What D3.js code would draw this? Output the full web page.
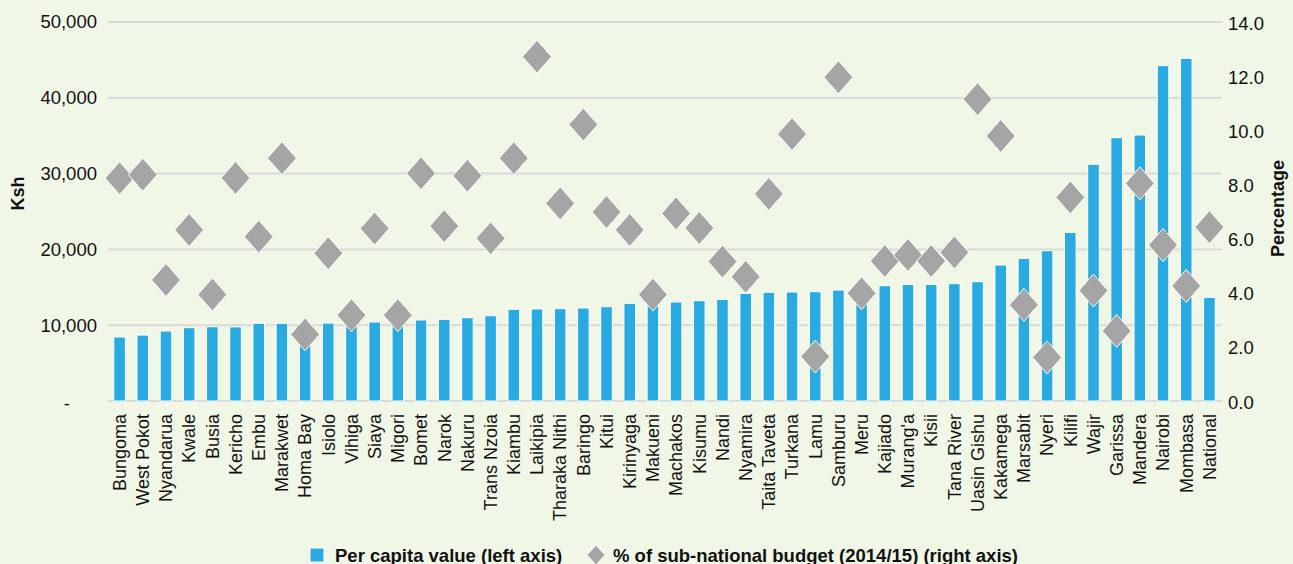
<!DOCTYPE html>
<html>
<head>
<meta charset="utf-8">
<script src="https://cdn.jsdelivr.net/npm/d3@7"></script>
<style>
  body { margin: 0; background: #f1f7e6; }
  svg { display: block; font-family: "Liberation Sans", Arial, sans-serif; }
  .axis text { font-size: 18.5px; fill: #111; }
  .axis path { display: none; }
  .title { font-size: 18px; font-weight: bold; fill: #111; }
  .legend text { font-size: 18.5px; font-weight: bold; fill: #111; }
</style>
</head>
<body>
<script>
var counties = ["Bungoma", "West Pokot", "Nyandarua", "Kwale", "Busia", "Kericho", "Embu", "Marakwet",
  "Homa Bay", "Isiolo", "Vihiga", "Siaya", "Migori", "Bomet", "Narok", "Nakuru", "Trans Nzoia",
  "Kiambu", "Laikipia", "Tharaka Nithi", "Baringo", "Kitui", "Kirinyaga", "Makueni", "Machakos",
  "Kisumu", "Nandi", "Nyamira", "Taita Taveta", "Turkana", "Lamu", "Samburu", "Meru", "Kajiado",
  "Murang'a", "Kisii", "Tana River", "Uasin Gishu", "Kakamega", "Marsabit", "Nyeri", "Kilifi",
  "Wajir", "Garissa", "Mandera", "Nairobi", "Mombasa", "National"];

var perCapita = [8440, 8700, 9230, 9670, 9800, 9780, 10250, 10250,
  10270, 10280, 10300, 10420, 10450, 10690, 10780, 10990, 11250,
  12100, 12140, 12180, 12270, 12440, 12890, 12980, 13060,
  13230, 13410, 14200, 14340, 14380, 14420, 14640, 14700, 15210,
  15390, 15390, 15480, 15740, 17940, 18820, 19830, 22250,
  31230, 34740, 35090, 44240, 45210, 13680];

var budgetShare = [8.23, 8.36, 4.47, 6.32, 3.93, 8.24, 6.07, 8.97,
  2.46, 5.46, 3.17, 6.37, 3.17, 8.41, 6.46, 8.32, 6.01,
  8.97, 12.72, 7.30, 10.21, 6.98, 6.32, 3.93, 6.93,
  6.39, 5.15, 4.59, 7.65, 9.86, 1.64, 11.96, 3.98, 5.17,
  5.39, 5.17, 5.49, 11.15, 9.79, 3.55, 1.61, 7.52,
  4.08, 2.59, 8.04, 5.76, 4.25, 6.42];

var leftTicks = [0, 10000, 20000, 30000, 40000, 50000];
var rightTicks = [0, 2, 4, 6, 8, 10, 12, 14];

var chartWidth = 1293;
var chartHeight = 564;
var margin = {top: 22, right: 72, bottom: 163, left: 108};
var width = chartWidth - margin.left - margin.right;
var height = chartHeight - margin.top - margin.bottom;

var svg = d3.select("body")
            .append("svg")
            .attr("width", chartWidth)
            .attr("height", chartHeight);

var g = svg.append("g")
           .attr("transform", "translate(" + margin.left + "," + margin.top + ")");

var xScale = d3.scaleBand()
               .domain(counties)
               .range([0, width])
               .paddingInner(0.5)
               .paddingOuter(0.25);

var yLeft = d3.scaleLinear().domain([0, 50000]).range([height, 0]);
var yRight = d3.scaleLinear().domain([0, 14]).range([height, 0]);

// gridlines
g.append("g")
 .selectAll("line")
 .data(leftTicks)
 .enter()
 .append("line")
 .attr("x1", 0)
 .attr("x2", width + 1)
 .attr("y1", function(d) { return yLeft(d); })
 .attr("y2", function(d) { return yLeft(d); })
 .attr("stroke", "#d9d9d9")
 .attr("stroke-width", 2);

// left axis
var leftAxis = g.append("g")
                .attr("class", "axis")
                .call(d3.axisLeft(yLeft)
                  .tickValues(leftTicks)
                  .tickSize(0)
                  .tickPadding(11)
                  .tickFormat(function(d) { return d === 0 ? "-" : d3.format(",")(d); }));
leftAxis.selectAll(".tick")
        .filter(function(d) { return d === 0; })
        .select("text")
        .attr("dx", -27)
        .attr("dy", "0.48em");

// right axis
g.append("g")
 .attr("class", "axis")
 .attr("transform", "translate(" + width + ",0)")
 .call(d3.axisRight(yRight)
   .tickValues(rightTicks)
   .tickSize(0)
   .tickPadding(7)
   .tickFormat(d3.format(".1f")))
 .selectAll("text")
 .attr("dy", "0.38em");

// bars
g.append("g")
 .selectAll("rect")
 .data(perCapita)
 .enter()
 .append("rect")
 .attr("x", function(d, i) { return xScale(counties[i]); })
 .attr("y", function(d) { return yLeft(d); })
 .attr("width", xScale.bandwidth())
 .attr("height", function(d) { return height - yLeft(d); })
 .attr("fill", "#29abe2")
 .attr("stroke", "#ffffff")
 .attr("stroke-width", 1);

// diamonds
var dw = 14.5, dh = 16.5;
function diamond(cx, cy, w, h) {
  return "M" + cx + "," + (cy - h) + "L" + (cx + w) + "," + cy +
         "L" + cx + "," + (cy + h) + "L" + (cx - w) + "," + cy + "Z";
}
g.append("g")
 .selectAll("path")
 .data(budgetShare)
 .enter()
 .append("path")
 .attr("d", function(d, i) {
   return diamond(xScale(counties[i]) + xScale.bandwidth() / 2, yRight(d), dw, dh);
 })
 .attr("fill", "#a5a5a5")
 .attr("stroke", "#ffffff")
 .attr("stroke-width", 1);

// x labels
g.append("g")
 .attr("class", "axis")
 .attr("transform", "translate(0," + height + ")")
 .call(d3.axisBottom(xScale).tickSize(0).tickPadding(0))
 .selectAll("text")
 .attr("text-anchor", "end")
 .attr("transform", "rotate(-90)")
 .attr("x", -13)
 .attr("y", 0)
 .attr("dy", "0.35em")
 .style("font-size", "18px");

// axis titles
g.append("text")
 .attr("class", "title")
 .attr("text-anchor", "middle")
 .attr("transform", "translate(" + (-margin.left + 24) + "," + (height / 2 - 18) + ") rotate(-90)")
 .text("Ksh");

g.append("text")
 .attr("class", "title")
 .attr("text-anchor", "middle")
 .attr("transform", "translate(" + (width + 63) + "," + (height / 2 - 3) + ") rotate(-90)")
 .text("Percentage");

// legend
var legend = svg.append("g").attr("class", "legend");
legend.append("rect")
      .attr("x", 310).attr("y", 548)
      .attr("width", 14).attr("height", 14)
      .attr("fill", "#29abe2")
      .attr("stroke", "#ffffff");
legend.append("text")
      .attr("x", 335).attr("y", 561.5)
      .text("Per capita value (left axis)");
legend.append("path")
      .attr("d", diamond(596, 555, 9, 10))
      .attr("fill", "#a5a5a5")
      .attr("stroke", "#ffffff");
legend.append("text")
      .attr("x", 613).attr("y", 561.5)
      .text("% of sub-national budget (2014/15) (right axis)");
</script>
</body>
</html>
